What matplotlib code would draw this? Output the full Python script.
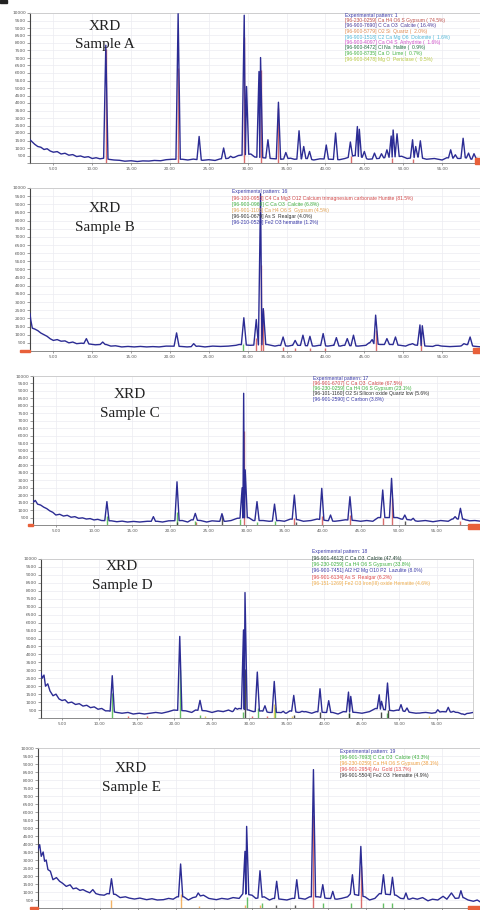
import numpy as np
import matplotlib
matplotlib.use("Agg")
import matplotlib.pyplot as plt
from matplotlib.patches import Rectangle

W, H = 481, 910

# ---------------- Sample A ----------------
a_bg_x = [2.0, 2.3, 2.6, 3.0, 3.4, 3.8, 4.2, 4.6, 5.0, 5.5, 6.0, 6.5, 7.0, 7.5, 8.0, 8.5, 9.0, 9.5, 10.0,
          10.5, 11.0, 11.5, 12.2, 12.8, 13.5, 14.2, 15.0, 15.8, 16.5, 17.3, 18.0, 18.8, 19.5, 20.3, 21.6,
          22.3, 23.0, 24.2, 25.0, 25.8, 26.5, 27.3, 28.3, 28.8, 30.4, 30.9, 32.0, 33.0, 34.3, 35.5, 36.0,
          37.6, 38.5, 39.3, 40.7, 41.8, 42.5, 43.7, 44.6, 45.5, 46.8, 47.5, 49.8, 50.5, 51.9, 53.0, 54.0,
          55.0, 55.6, 57.2, 58.0, 58.8, 59.5, 60.0]
a_bg_y = [1550, 1400, 1250, 1100, 1050, 900, 950, 800, 720, 760, 600, 650, 520, 560, 430, 470, 380, 420, 300,
          350, 280, 320, 240, 200, 180, 120, 150, 100, 140, 130, 170, 150, 220, 250, 250,
          200, 260, 180, 220, 170, 280, 300, 380, 500, 600, 400, 350, 300, 250, 320, 250,
          300, 200, 280, 250, 220, 300, 500, 400, 250, 300, 350, 450, 300, 400, 250, 300,
          200, 350, 300, 350, 250, 300, 250]
a_peak_x = [11.75, 21.05, 23.75, 26.9, 27.8, 29.55, 29.85, 31.45, 31.65, 32.6, 33.95, 34.9, 36.6, 37.2, 37.95,
            40.1, 41.3, 43.2, 44.1, 44.35, 45.0, 46.3, 47.2, 47.9, 48.45, 48.7, 49.2, 51.2, 51.6, 52.2,
            56.1, 56.7, 57.7, 58.4, 59.1]
a_peak_y = [7850, 9950, 1770, 1000, 450, 9850, 5100, 6100, 7030, 1550, 4050, 700, 2150, 1100, 770,
            1200, 2000, 1400, 2430, 2250, 770, 660, 620, 880, 1800, 2200, 1950, 1550, 1100, 1480,
            880, 550, 1650, 660, 620]
a_red_x = [11.75, 21.05, 29.55, 31.65, 33.95, 43.3, 48.6, 51.2]
a_red_y = [7600, 6300, 8400, 6200, 3700, 450, 350, 250]

# ---------------- Sample B ----------------
b_bg_x = [2.0, 2.1, 2.3, 2.6, 3.0, 3.4, 3.8, 4.2, 4.6, 5.0, 5.5, 6.0, 6.5, 7.0, 7.5, 8.0, 8.6, 9.8, 10.4,
          10.9, 11.8, 12.4, 13.0, 13.8, 14.6, 15.4, 16.2, 17.0, 17.8, 18.6, 19.5, 20.3, 21.4, 22.2, 23.7,
          24.5, 25.5, 26.5, 27.5, 28.5, 28.9, 30.3, 32.5, 33.5, 34.0, 35.2, 35.7, 36.6, 38.6, 39.2, 40.3,
          41.0, 41.9, 42.3, 44.2, 45.2, 45.6, 47.0, 47.5, 48.5, 49.6, 50.3, 50.8, 53.0, 53.8, 54.2, 55.0,
          56.0, 57.3, 58.2, 59.0, 60.0]
b_bg_y = [2300, 1900, 1400, 1350, 1250, 1100, 1000, 900, 750, 650, 700, 600, 620, 500, 550, 450, 480, 420, 380,
          400, 400, 300, 320, 250, 280, 250, 280, 250, 270, 250, 300, 300, 280, 250, 300,
          250, 300, 280, 300, 350, 400, 350, 400, 300, 350, 300, 350, 350, 300, 350, 300,
          350, 300, 350, 300, 350, 500, 400, 400, 400, 350, 300, 400, 300, 280, 350, 300,
          270, 300, 400, 300, 250]
b_peak_x = [9.25, 11.35, 20.85, 23.05, 29.5, 31.1, 31.65, 32.0, 34.55, 36.1, 37.1, 38.0, 39.7, 41.4, 42.8,
            43.6, 46.0, 46.45, 47.9, 49.0, 51.2, 52.15, 52.45, 54.5, 57.8, 58.6]
b_peak_y = [760, 550, 1110, 450, 2040, 1930, 9650, 2600, 860, 650, 970, 900, 1070, 820, 760,
            970, 700, 2200, 760, 860, 450, 1600, 1550, 350, 450, 860]
b_red_x = [31.1, 31.65, 32.0, 34.55, 36.1, 38.0, 40.0, 46.45, 52.3]
b_red_y = [800, 5300, 2500, 250, 200, 200, 200, 1300, 650]
b_green_x = [29.45]
b_green_y = [400]

# ---------------- Sample C ----------------
c_bg_x = [1.92, 2.1, 2.3, 2.6, 3.0, 3.4, 3.8, 4.2, 4.6, 5.0, 5.5, 6.0, 6.5, 7.0, 7.5, 8.0, 8.5, 9.0, 9.5,
          10.0, 10.5, 11.0, 12.3, 13.0, 13.7, 14.4, 15.2, 16.0, 17.0, 18.3, 19.0, 19.8, 21.6, 22.3, 22.8,
          24.0, 24.8, 25.5, 26.3, 27.3, 28.0, 28.8, 30.3, 30.9, 32.2, 33.0, 34.3, 35.0, 35.8, 36.8, 37.5,
          38.5, 39.3, 40.5, 41.6, 42.4, 43.0, 44.3, 45.0, 45.8, 46.6, 47.3, 49.8, 50.3, 51.4, 52.5, 53.5,
          54.5, 55.5, 56.5, 57.0, 58.5, 59.3, 60.0, 60.8]
c_bg_y = [1680, 1550, 1650, 1400, 1340, 1200, 1100, 950, 850, 670, 720, 600, 650, 520, 560, 450, 480, 400, 430,
          340, 380, 300, 280, 220, 260, 200, 240, 200, 250, 250, 200, 280, 300, 200, 350,
          300, 200, 280, 250, 250, 300, 450, 500, 300, 300, 250, 300, 250, 400, 350, 250,
          300, 400, 300, 250, 300, 350, 300, 250, 300, 250, 500, 500, 400, 350, 250, 300,
          220, 300, 250, 400, 400, 280, 300, 250]
c_peak_x = [11.7, 17.8, 20.9, 23.3, 26.8, 29.45, 29.65, 29.85, 31.4, 33.7, 36.3, 39.9, 41.05, 43.6, 47.9,
            49.06, 50.8, 51.9, 57.4, 58.1, 58.8]
c_peak_y = [1570, 560, 2900, 780, 760, 2500, 8840, 3700, 1570, 1400, 2010, 2460, 670, 1900, 2350,
            3130, 670, 450, 560, 1120, 340]
c_red_x = [29.65, 36.3, 39.9, 43.6, 47.9, 49.06, 58.1, 23.4]
c_red_y = [6300, 500, 600, 700, 500, 1800, 300, 200]
c_green_x = [11.7, 20.9, 23.2, 29.2, 31.4, 33.7]
c_green_y = [600, 900, 300, 400, 200, 300]
c_black_x = [26.8, 20.85, 36.55, 50.8]
c_black_y = [700, 200, 200, 300]

# ---------------- Sample D ----------------
d_bg_x = [2.2, 2.35, 2.6, 2.8, 3.1, 3.4, 3.8, 4.2, 4.6, 5.0, 5.4, 5.8, 6.3, 6.8, 7.3, 7.8, 8.3, 8.8, 9.3,
          9.8, 10.3, 10.8, 11.2, 12.3, 13.0, 13.8, 14.5, 15.3, 16.0, 16.8, 17.5, 18.3, 19.2, 19.9, 21.5,
          22.3, 22.8, 24.2, 25.0, 25.8, 26.5, 27.2, 27.7, 28.6, 29.9, 30.5, 31.6, 32.6, 34.0, 34.9, 35.4,
          36.5, 37.5, 38.3, 38.9, 40.0, 41.1, 41.8, 42.5, 44.2, 45.0, 46.0, 46.8, 49.2, 49.7, 51.5, 52.2,
          53.5, 54.3, 55.7, 57.8, 58.3, 59.3, 59.8]
d_bg_y = [2820, 2500, 2700, 2000, 2150, 1700, 1400, 1500, 1200, 1100, 1150, 950, 1000, 850, 900, 750, 800, 650, 700,
          550, 600, 450, 450, 350, 300, 350, 250, 300, 250, 300, 350, 300, 400, 500, 450,
          350, 500, 450, 350, 450, 400, 500, 400, 600, 500, 400, 450, 350, 350, 300, 450,
          350, 400, 300, 400, 350, 350, 250, 400, 350, 300, 400, 600, 450, 500, 350, 300,
          350, 300, 400, 350, 250, 300, 350]
d_peak_x = [11.7, 20.7, 23.4, 28.1, 29.2, 29.4, 31.04, 32.06, 33.3, 34.5, 35.9, 37.0, 39.4, 40.56, 43.2,
            43.5, 47.3, 47.6, 48.4, 50.2, 51.0, 52.7, 55.1, 56.5, 57.2, 58.7]
d_peak_y = [2660, 5130, 1110, 630, 5540, 7890, 2890, 770, 2300, 420, 1420, 420, 1840, 1090, 1630,
            1360, 1460, 1050, 2200, 840, 630, 310, 520, 670, 420, 210]
d_green_x = [11.7, 20.7, 23.4, 29.1, 31.1, 33.4, 43.3, 48.4]
d_green_y = [1600, 3000, 200, 400, 600, 700, 300, 300]
d_black_x = [29.4, 39.4, 43.2, 47.6, 48.5, 36.0]
d_black_y = [3100, 400, 300, 400, 500, 200]
d_red_x = [13.8, 16.3, 30.4, 32.3]
d_red_y = [150, 150, 150, 100]
d_orange_x = [24.1, 33.2, 35.6, 54.0]
d_orange_y = [120, 900, 150, 100]

# ---------------- Sample E ----------------
e_bg_x = [1.77, 1.99, 2.2, 2.45, 2.64, 2.85, 3.08, 3.4, 3.74, 4.2, 4.62, 5.0, 5.5, 6.0, 6.4, 6.82, 7.3, 7.7,
          8.14, 8.6, 9.0, 9.4, 9.9, 10.5, 10.9, 12.0, 12.6, 13.3, 13.8, 14.5, 15.2, 16.1, 16.8, 17.5, 18.3,
          19.0, 19.6, 20.1, 21.0, 21.6, 22.2, 23.6, 24.3, 25.3, 26.0, 26.8, 27.5, 28.3, 28.8, 30.0, 30.5,
          31.6, 32.3, 32.8, 33.8, 34.6, 35.3, 36.4, 37.0, 37.6, 38.7, 39.9, 40.2, 41.2, 41.8, 42.6, 43.0,
          44.9, 45.5, 46.2, 46.8, 49.0, 49.6, 50.8, 51.2, 51.8, 52.5, 53.2, 53.8, 54.5, 55.2, 55.7, 56.3,
          56.8, 57.9, 58.5, 59.2, 59.7, 60.2]
e_bg_y = [3650, 3960, 3230, 3500, 2920, 3000, 2400, 2300, 1770, 1900, 1670, 1550, 1350, 1450, 1200, 1250, 1100, 1150,
          1040, 950, 1150, 900, 830, 800, 900, 850, 650, 700, 620, 560, 620, 520, 580, 500, 520,
          600, 550, 700, 700, 500, 650, 800, 600, 520, 600, 550, 650, 600, 900, 800, 600,
          700, 500, 600, 550, 500, 600, 600, 550, 700, 700, 600, 600, 550, 600, 700, 900,
          700, 500, 600, 900, 800, 600, 550, 620, 550, 650, 450, 550, 500, 730, 550, 940,
          600, 650, 500, 420, 500, 350]
e_peak_x = [11.46, 20.58, 22.9, 29.07, 29.29, 31.05, 33.25, 35.9, 38.1, 39.33, 40.65, 43.24, 44.35, 47.33,
            48.52, 50.3, 57.55]
e_peak_y = [1830, 2750, 940, 3540, 5100, 2330, 1670, 1770, 8650, 1460, 1040, 2080, 3850, 2080,
            1920, 940, 1080]
e_red_x = [38.1, 44.35]
e_red_y = [5800, 2600]
e_orange_x = [11.46, 20.58, 23.0, 29.1, 31.1]
e_orange_y = [500, 900, 150, 200, 200]
e_green_x = [29.3, 31.3, 39.4, 43.1, 47.3, 48.5]
e_green_y = [700, 300, 300, 300, 300, 300]
e_black_x = [33.2, 35.7]
e_black_y = [200, 200]

# ---------------- legends ----------------
a_leg = ["Experimental pattern: 1",
         "[96-230-0259] Ca H4 O6 S Gypsum ( 74.5%)",
         "[96-900-7690] C Ca O3  Calcite ( 16.4%)",
         "[96-900-5779] O2 Si  Quartz (  2.0%)",
         "[96-900-1518] C2 Ca Mg O6  Dolomite (  1.6%)",
         "[96-900-4097] Ca O4 S  Anhydrite (  1.6%)",
         "[96-900-8472] Cl Na  Halite (  0.9%)",
         "[96-900-8735] Ca O  Lime (  0.7%)",
         "[96-900-8478] Mg O  Periclase (  0.5%)"]
a_leg_c = ["#3a3aa8", "#c0504a", "#4a3a9a", "#e08a50", "#50b8d8", "#d050c8", "#207040", "#40b040", "#b8c840"]
b_leg = ["Experimental pattern: 16",
         "[96-100-0953] C4 Ca Mg3 O12 Calcium trimagnesium carbonate Huntite (81.5%)",
         "[96-900-0969] C Ca O3  Calcite (6.8%)",
         "[96-901-1105] Ca H4 O6 S  Gypsum (4.5%)",
         "[96-901-0679] As S  Realgar (4.0%)",
         "[96-210-0520] Fe2 O3 hematite (1.2%)"]
b_leg_c = ["#3a3aa8", "#d04848", "#40b040", "#e0a050", "#303030", "#3a3aa8"]
c_leg = ["Experimental pattern: 17",
         "[96-901-6707] C Ca O3  Calcite (67.5%)",
         "[96-230-0259] Ca H4 O6 S Gypsum (23.1%)",
         "[96-101-1160] O2 Si Silicon oxide Quartz low (5.6%)",
         "[96-901-2590] C Carbon (3.8%)"]
c_leg_c = ["#3a3aa8", "#d04848", "#40b040", "#303030", "#3a3aa8"]
d_leg = ["Experimental pattern: 18",
         "[96-901-4612] C Ca O3  Calcite (47.4%)",
         "[96-230-0259] Ca H4 O6 S Gypsum (33.8%)",
         "[96-900-7451] Al2 H2 Mg O10 P2  Lazulite (8.0%)",
         "[96-901-6134] As S  Realgar (6.2%)",
         "[96-151-1269] Fe2 O3 Iron(III) oxide Hematite (4.6%)"]
d_leg_c = ["#3a3aa8", "#204030", "#40b040", "#3a3aa8", "#e04848", "#f0b050"]
e_leg = ["Experimental pattern: 19",
         "[96-901-7693] C Ca O3  Calcite (43.3%)",
         "[96-230-0259] Ca H4 O6 S Gypsum (38.1%)",
         "[96-901-2954] Au  Gold (13.7%)",
         "[96-901-5504] Fe2 O3  Hematite (4.9%)"]
e_leg_c = ["#3a3aa8", "#40b040", "#f0a040", "#e04848", "#303030"]

titles = ["Sample A", "Sample B", "Sample C", "Sample D", "Sample E"]
y_ticks = list(range(0, 10001, 500))
x_ticks = [5, 10, 15, 20, 25, 30, 35, 40, 45, 50, 55]

LINE = "#2c2c94"

fig = plt.figure(figsize=(W / 100, H / 100), dpi=100)
fig.patch.set_facecolor("white")


def add_axes(left, right, top, bottom):
    return fig.add_axes([left / W, 1 - bottom / H, (right - left) / W, (bottom - top) / H])


def profile(bg_x, bg_y, pk_x, pk_y, w):
    pts = []
    for x, y in zip(bg_x, bg_y):
        if all(abs(x - p) > w for p in pk_x):
            pts.append((x, y))
    n = len(pk_x)
    for i in range(n):
        p, h = pk_x[i], pk_y[i]
        left = p - w
        if i > 0 and p - pk_x[i - 1] < 2 * w:
            left = 0.5 * (p + pk_x[i - 1])
        right = p + w
        if i < n - 1 and pk_x[i + 1] - p < 2 * w:
            right = 0.5 * (p + pk_x[i + 1])
        pts.append((left, np.interp(left, bg_x, bg_y)))
        pts.append((p, h))
        pts.append((right, np.interp(right, bg_x, bg_y)))
    pts.sort(key=lambda t: t[0])
    return [t[0] for t in pts], [t[1] for t in pts]


def draw(ax, xlim, bg_x, bg_y, pk_x, pk_y, sticks, leg, leg_c, leg_xy, leg_dy, title_xy, w=0.28,
         xlabels=True):
    ax.set_xlim(*xlim)
    ax.set_ylim(0, 10000)
    ax.set_xticks(x_ticks)
    ax.set_xticklabels(["%.2f" % v for v in x_ticks])
    ax.set_yticks(y_ticks)
    ax.set_yticklabels([""] + [str(v) for v in y_ticks[1:]])
    ax.tick_params(axis="x", labelsize=3.0, colors="#555555", length=1.5, width=0.4, pad=1.5,
                   labelbottom=xlabels)
    ax.tick_params(axis="y", labelsize=3.2, colors="#555555", length=2.0, width=0.4, pad=1.0)
    ax.grid(True, color="#ececf2", lw=0.5)
    ax.set_axisbelow(True)
    for s in ["top", "right"]:
        ax.spines[s].set_color("#c8c8c8")
        ax.spines[s].set_linewidth(0.6)
    ax.spines["left"].set_color("#444444")
    ax.spines["left"].set_linewidth(0.8)
    ax.spines["bottom"].set_color("#777777")
    ax.spines["bottom"].set_linewidth(0.6)
    for sx, sy, col in sticks:
        ax.vlines(sx, 0, sy, colors=col, lw=1.0, alpha=0.8, zorder=2)
    px, py = profile(bg_x, bg_y, pk_x, pk_y, w)
    ax.plot(px, py, color=LINE, lw=1.0, zorder=3, solid_joinstyle="round")
    for i, (t, c) in enumerate(zip(leg, leg_c)):
        fig.text(leg_xy[0] / W, 1 - (leg_xy[1] + i * leg_dy) / H, t, color=c, fontsize=3.6,
                 family="Liberation Sans", va="center", ha="left")
    fig.text(title_xy[0] / W, 1 - title_xy[1] / H, "XRD", fontsize=11, family="Liberation Serif",
             ha="center", va="center", color="#222222")
    fig.text(title_xy[0] / W, 1 - (title_xy[1] + 18.5) / H, title_xy[2], fontsize=11,
             family="Liberation Serif", ha="center", va="center", color="#222222")


axA = add_axes(30, 481, 13, 163)
draw(axA, (2, 60), a_bg_x, a_bg_y, a_peak_x, a_peak_y, [(a_red_x, a_red_y, "#d04848")],
     a_leg, a_leg_c, (345, 15), 5.5, (105, 26, titles[0]))

axB = add_axes(30, 481, 188, 351)
draw(axB, (2, 60), b_bg_x, b_bg_y, b_peak_x, b_peak_y,
     [(b_red_x, b_red_y, "#d04848"), (b_green_x, b_green_y, "#40b040")],
     b_leg, b_leg_c, (232, 192), 6.1, (105, 209, titles[1]), w=0.32)

axC = add_axes(33, 481, 376, 525)
draw(axC, (2, 60.8), c_bg_x, c_bg_y, c_peak_x, c_peak_y,
     [(c_red_x, c_red_y, "#d04848"), (c_green_x, c_green_y, "#40b040"), (c_black_x, c_black_y, "#303030")],
     c_leg, c_leg_c, (313, 378), 5.3, (130, 395, titles[2]))

axD = add_axes(41, 473, 559, 718)
draw(axD, (2.2, 59.8), d_bg_x, d_bg_y, d_peak_x, d_peak_y,
     [(d_green_x, d_green_y, "#40b040"), (d_black_x, d_black_y, "#202020"),
      (d_red_x, d_red_y, "#e04848"), (d_orange_x, d_orange_y, "#e0c040")],
     d_leg, d_leg_c, (312, 552), 6.3, (122, 567, titles[3]))

axE = add_axes(38, 481, 748, 908)
draw(axE, (1.77, 60.2), e_bg_x, e_bg_y, e_peak_x, e_peak_y,
     [(e_red_x, e_red_y, "#d04848"), (e_orange_x, e_orange_y, "#f0a040"),
      (e_green_x, e_green_y, "#40b040"), (e_black_x, e_black_y, "#303030")],
     e_leg, e_leg_c, (340, 751), 6.25, (131, 769, titles[4]), xlabels=False)

# small decorative markers (scroll indicators)
for (x0, y0, w_, h_) in [(0, 0, 7, 3), ]:
    fig.patches.append(Rectangle((x0 / W, 1 - (y0 + h_) / H), w_ / W, h_ / H, transform=fig.transFigure,
                                 color="#222222", zorder=5))
for (x0, y0, w_, h_) in [(475, 158, 6, 6), (473, 348, 8, 5), (20, 350, 10, 2), (468, 524, 13, 5),
                         (28, 524, 5, 2), (468, 906, 13, 4), (30, 907, 8, 2)]:
    fig.patches.append(Rectangle((x0 / W, 1 - (y0 + h_) / H), w_ / W, h_ / H, transform=fig.transFigure,
                                 color="#e8603a", zorder=5))

fig.savefig("out.png", dpi=100)
